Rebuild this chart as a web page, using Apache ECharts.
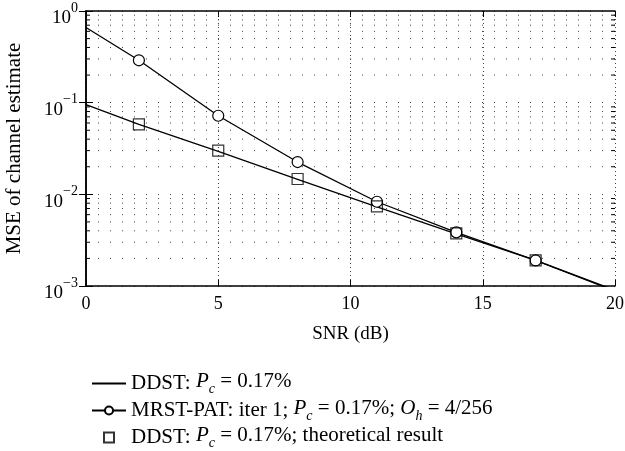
<!DOCTYPE html>
<html>
<head>
<meta charset="utf-8">
<script src="https://cdn.jsdelivr.net/npm/echarts@6/dist/echarts.min.js"></script>
<style>
  html, body { margin: 0; padding: 0; background: #fff; }
  #chart { width: 625px; height: 451px; }
</style>
</head>
<body>
<div id="chart"></div>
<script>
// data
var snr = [0, 2, 5, 8, 11, 14, 17, 20];
var ddst = [0.095, 0.058, 0.0295, 0.0146, 0.0073, 0.0037, 0.0019, 0.00088];
var mrstPat = [0.66, 0.29, 0.072, 0.0225, 0.0083, 0.00385, 0.0019, 0.0009];
var theorySnr = [2, 5, 8, 11, 14, 17];
var ddstTheory = [0.058, 0.030, 0.0147, 0.0074, 0.00375, 0.0019];
var minorLevels = [];
[0.001, 0.01, 0.1].forEach(function (d) {
    for (var k = 2; k <= 9; k++) minorLevels.push(+(k * d).toPrecision(3));
});
var seriesNames = ['DDST', 'MRST-PAT', 'DDST theory'];
var legendLabels = [
    'DDST: {i|P}{s|c}{n| = 0.17%}',
    'MRST-PAT: iter 1; {i|P}{s|c}{n| = 0.17%; }{i|O}{s|h}{n| = 4/256}',
    'DDST: {i|P}{s|c}{n| = 0.17%; theoretical result}'
];

var FONT = '"Liberation Serif", "DejaVu Serif", serif';

function pairs(xs, ys) {
    return xs.map(function (x, i) { return [x, ys[i]]; });
}

var dom = document.getElementById('chart');
var myChart = echarts.init(dom, null, {renderer: 'canvas'});

var mrstData = pairs(snr, mrstPat).map(function (p, i) {
    // no marker at the two end points
    if (i === 0 || i === snr.length - 1) return {value: p, symbol: 'none'};
    return {value: p};
});

var option = {
    animation: false,
    backgroundColor: '#fff',
    grid: {left: 86, right: 10, top: 11, bottom: 165, show: false, outerBoundsMode: 'none'},
    legend: {
        orient: 'vertical',
        left: 86,
        top: 366,
        height: 120,
        itemWidth: 34,
        itemHeight: 10,
        itemGap: 2,
        selectedMode: false,
        data: [
            {name: seriesNames[0], itemStyle: {color: 'transparent', borderColor: 'transparent', borderWidth: 0}},
            {name: seriesNames[1]},
            {name: seriesNames[2], icon: 'path://M0,0H10V10H0Z', symbolKeepAspect: true}
        ],
        formatter: function (name) {
            return legendLabels[seriesNames.indexOf(name)];
        },
        textStyle: {
            color: '#000',
            fontFamily: FONT,
            fontSize: 21,
            rich: {
                n: {fontFamily: FONT, fontSize: 21, color: '#000', verticalAlign: 'top'},
                i: {fontFamily: FONT, fontSize: 21, color: '#000', fontStyle: 'italic', verticalAlign: 'top'},
                s: {fontFamily: FONT, fontSize: 14, color: '#000', fontStyle: 'italic', lineHeight: 25, verticalAlign: 'bottom'}
            }
        }
    },
    xAxis: [{
        type: 'value',
        min: 0,
        max: 20,
        interval: 5,
        name: 'SNR (dB)',
        nameLocation: 'middle',
        nameGap: 39,
        nameTextStyle: {fontFamily: FONT, fontSize: 19, color: '#000'},
        axisLine: {lineStyle: {color: '#000', width: 1.5}},
        axisTick: {inside: true, length: 6, lineStyle: {color: '#000'}},
        axisLabel: {fontFamily: FONT, fontSize: 18, color: '#000', margin: 9},
        splitLine: {show: true, lineStyle: {color: '#444', type: [1, 3], width: 1}}
    }, {
        type: 'value',
        position: 'top',
        min: 0,
        max: 20,
        interval: 5,
        axisLine: {lineStyle: {color: '#000', width: 1.5}},
        axisTick: {inside: true, length: 6, lineStyle: {color: '#000'}},
        axisLabel: {show: false},
        splitLine: {show: false}
    }],
    yAxis: [{
        type: 'log',
        logBase: 10,
        min: 0.001,
        max: 1,
        name: 'MSE of channel estimate',
        nameLocation: 'middle',
        nameGap: 61,
        nameTextStyle: {fontFamily: FONT, fontSize: 21, color: '#000'},
        axisLine: {lineStyle: {color: '#000', width: 1.5}},
        axisTick: {inside: true, length: 7, lineStyle: {color: '#000'}},
        axisLabel: {
            margin: 8,
            padding: [4, 0, 0, 0],
            formatter: function (v) {
                var e = Math.round(Math.log10(v));
                return '{b|10}{e|' + (e < 0 ? '\u2212' + (-e) : e) + '}';
            },
            rich: {
                b: {fontFamily: FONT, fontSize: 19, color: '#000', verticalAlign: 'bottom'},
                e: {fontFamily: FONT, fontSize: 14, color: '#000', lineHeight: 30, padding: [3, 0, 0, 0], verticalAlign: 'top'}
            }
        },
        splitLine: {show: true, lineStyle: {color: '#444', type: [1, 11], width: 1}}
    }, {
        type: 'log',
        logBase: 10,
        min: 0.001,
        max: 1,
        position: 'right',
        axisLine: {lineStyle: {color: '#000', width: 1.5}},
        axisTick: {inside: true, length: 7, lineStyle: {color: '#000'}},
        axisLabel: {show: false},
        splitLine: {show: false}
    }],
    series: [
        {
            // minor log grid lines and ticks
            type: 'custom',
            silent: true,
            xAxisIndex: 0,
            yAxisIndex: 0,
            data: minorLevels,
            encode: {y: 0},
            renderItem: function (params, api) {
                var v = api.value(0);
                var a = api.coord([0, v]);
                var b = api.coord([20, v]);
                return {
                    type: 'group',
                    children: [
                        {type: 'line', shape: {x1: a[0], y1: a[1], x2: b[0], y2: b[1]},
                            style: {stroke: '#444', lineWidth: 1, lineDash: [1, 11]}},
                        {type: 'line', shape: {x1: a[0], y1: a[1], x2: a[0] + 4, y2: a[1]},
                            style: {stroke: '#000', lineWidth: 1}},
                        {type: 'line', shape: {x1: b[0] - 4, y1: b[1], x2: b[0], y2: b[1]},
                            style: {stroke: '#000', lineWidth: 1}}
                    ]
                };
            }
        },
        {
            name: seriesNames[0],
            type: 'line',
            symbol: 'none',
            data: pairs(snr, ddst),
            lineStyle: {color: '#000', width: 1.3},
            itemStyle: {color: '#000'},
            z: 3
        },
        {
            name: seriesNames[1],
            type: 'line',
            symbol: 'circle',
            symbolSize: 11,
            data: mrstData,
            lineStyle: {color: '#000', width: 1.3},
            itemStyle: {color: '#fff', borderColor: '#000', borderWidth: 1.2},
            z: 4
        },
        {
            name: seriesNames[2],
            type: 'scatter',
            symbol: 'rect',
            symbolSize: 11,
            data: pairs(theorySnr, ddstTheory),
            itemStyle: {color: 'rgba(0,0,0,0)', borderColor: '#000', borderWidth: 1.2},
            z: 5
        }
    ]
};

myChart.setOption(option);
window.onresize = function () {
    myChart.resize();
};
</script>
</body>
</html>
